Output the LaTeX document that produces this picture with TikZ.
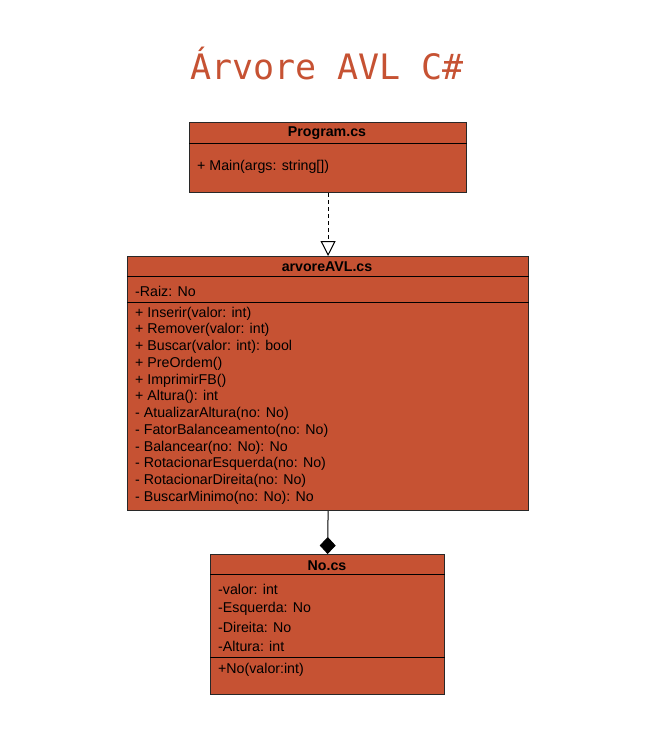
\documentclass[tikz,border=0pt]{standalone}
\usepackage{fontspec}
\setmainfont{Liberation Sans}
\newfontfamily\titlefont{DejaVu Sans Mono}
\usetikzlibrary{arrows.meta}
\definecolor{brick}{RGB}{198,82,51}
\definecolor{boxline}{RGB}{40,40,40}

\begin{document}
\begin{tikzpicture}[x=1pt,y=-1pt,
                    classbox/.style={draw=boxline,fill=brick,line width=1.2pt,
                                     anchor=north west,inner sep=0pt},
                    member/.style={anchor=west,inner sep=0pt,yshift=-1.5pt,
                                   font=\fontsize{14.2}{16}\selectfont},
                    header/.style={inner sep=0pt,yshift=-1.5pt,
                                   font=\fontsize{14.2}{16}\selectfont\bfseries},
                    sep/.style={draw=black,line width=1pt}]
  \useasboundingbox (0,0) rectangle (648,750);

  \node[text=brick,font=\titlefont\fontsize{35}{40}\selectfont] (title) at (327,64) {Árvore AVL C\#};

  % Program.cs
  \node[classbox,minimum width=277pt,minimum height=70pt] (prog) at (189,122) {};
  \node[header]  (progname) at (327,132) {Program.cs};
  \node[member]  (main)     at (197,165) {+ Main(args: string[])};
  \draw[sep] (prog.west |- 0,143) -- (prog.east |- 0,143);

  % arvoreAVL.cs
  \node[classbox,minimum width=401pt,minimum height=254pt] (avl) at (127,256) {};
  \node[header]  (avlname) at (327,265) {arvoreAVL.cs};
  \node[member]  (raiz)    at (135,290) {-Raiz: No};
  \draw[sep] (avl.west |- 0,276) -- (avl.east |- 0,276);
  \draw[sep] (avl.west |- 0,302) -- (avl.east |- 0,302);
  \foreach \txt [count=\i] in {+ Inserir(valor: int), + Remover(valor: int),
      + Buscar(valor: int): bool, + PreOrdem(), + ImprimirFB(), + Altura(): int,
      - AtualizarAltura(no: No), - FatorBalanceamento(no: No),
      - Balancear(no: No): No, - RotacionarEsquerda(no: No),
      - RotacionarDireita(no: No), - BuscarMinimo(no: No): No}
    \node[member] (m\i) at (135,{312+16.75*(\i-1)}) {\txt};

  % No.cs
  \node[classbox,minimum width=234pt,minimum height=140pt] (no) at (210,554) {};
  \node[header]  (noname)   at (327,564) {No.cs};
  \node[member]  (valor)    at (218,588) {-valor: int};
  \node[member]  (esquerda) at (218,607) {-Esquerda: No};
  \node[member]  (direita)  at (218,626) {-Direita: No};
  \node[member]  (altura)   at (218,645) {-Altura: int};
  \node[member]  (ctor)     at (218,668) {+No(valor:int)};
  \draw[sep] (no.west |- 0,574) -- (no.east |- 0,574);
  \draw[sep] (no.west |- 0,657) -- (no.east |- 0,657);

  \draw[line width=1pt,dash pattern=on 4pt off 3pt,
        -{Triangle[open,width=15pt,length=15pt,line width=1pt]}]
    (prog.south) -- (avl.north);
  \draw[line width=1pt,-{Diamond[width=16pt,length=17pt]}]
    (avl.south) -- (no.north);
\end{tikzpicture}
\end{document}
